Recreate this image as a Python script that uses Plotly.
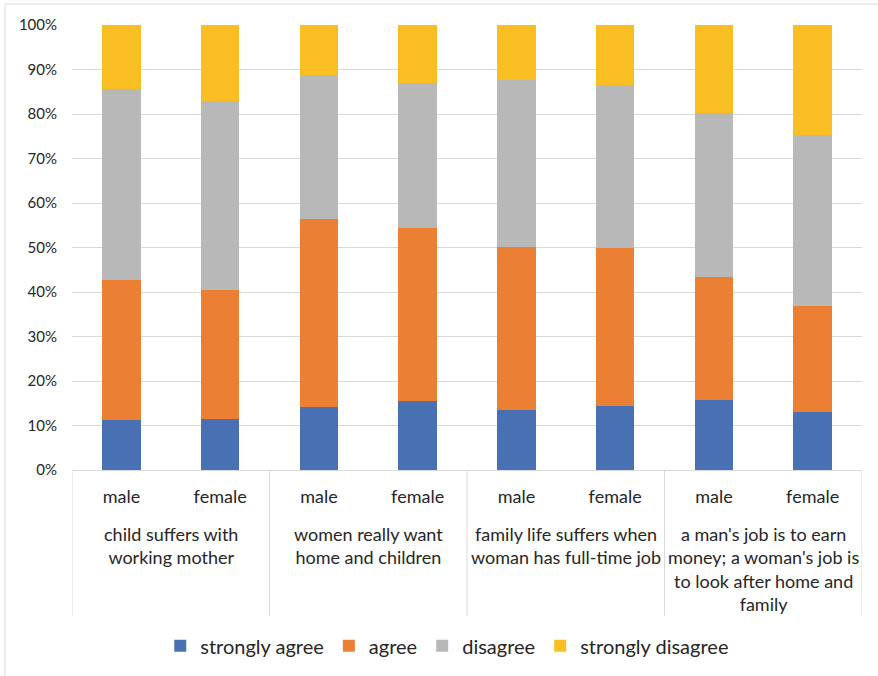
import plotly.graph_objects as go

groups = ["child suffers with<br>working mother",
          "women really want<br>home and children",
          "family life suffers when<br>woman has full-time job",
          "a man's job is to earn<br>money; a woman's job is<br>to look after home and<br>family"]
genders = ["male", "female"]
series_names = ["strongly agree", "agree", "disagree", "strongly disagree"]
colors = ["#4A70B4", "#EB7F33", "#B8B8B8", "#F9BE22"]

strongly_agree = [11.2, 11.4, 14.2, 15.5, 13.5, 14.3, 15.8, 13.1]
agree = [31.5, 29.0, 42.2, 38.8, 36.6, 35.5, 27.5, 23.7]
disagree = [42.9, 42.5, 32.3, 32.7, 37.5, 36.7, 36.9, 38.4]
strongly_disagree = [14.4, 17.1, 11.3, 13.0, 12.4, 13.5, 19.8, 24.8]
values = [strongly_agree, agree, disagree, strongly_disagree]

FONT = "Lato, Liberation Sans, Arial, sans-serif"
TXT = "#262626"

xpos = list(range(len(groups) * len(genders)))
xlabels = [g for _ in groups for g in genders]

fig = go.Figure()
for name, col, vals in zip(series_names, colors, values):
    fig.add_trace(go.Bar(x=xpos, y=vals, name=name, marker=dict(color=col, line=dict(width=0)),
                         width=0.39))

shapes = []
for k in range(len(groups) + 1):
    xv = -0.5 + 2 * k
    shapes.append(dict(type="line", xref="x", yref="paper", x0=xv, x1=xv, y0=0, y1=-0.3274,
                       line=dict(color="#d9d9d9", width=1)))
shapes.append(dict(type="rect", xref="paper", yref="paper", x0=-0.0848, x1=1.0228, y0=-0.47, y1=1.047,
                   line=dict(color="#d9d9d9", width=1), layer="below"))

annotations = []
for i, g in enumerate(groups):
    annotations.append(dict(x=2 * i + 0.5, xref="x", y=-0.1143, yref="paper", text=g,
                            showarrow=False, xanchor="center", yanchor="top", align="center",
                            font=dict(family=FONT, size=18, color=TXT)))

fig.update_layout(
    barmode="stack",
    width=878, height=676,
    margin=dict(l=72, r=16, t=25, b=205),
    paper_bgcolor="white", plot_bgcolor="white",
    font=dict(family=FONT, size=18, color=TXT),
    shapes=shapes,
    annotations=annotations,
    legend=dict(orientation="h", x=0.475, xanchor="center", y=-0.392, yanchor="middle",
                font=dict(family=FONT, size=20, color=TXT), traceorder="normal",
                itemwidth=30),
    xaxis=dict(range=[-0.5, 7.5], tickvals=xpos, ticktext=xlabels, showgrid=False,
               showline=True, linecolor="#d9d9d9", linewidth=1, ticks="", ticklabelstandoff=10,
               tickfont=dict(family=FONT, size=18, color=TXT), zeroline=False, fixedrange=True),
    yaxis=dict(range=[0, 100], tickvals=list(range(0, 101, 10)),
               ticktext=[f"{v}%" for v in range(0, 101, 10)], showgrid=True,
               gridcolor="#d9d9d9", gridwidth=1, zeroline=False, showline=False,
               ticklabelstandoff=14, tickfont=dict(family=FONT, size=15, color=TXT), fixedrange=True),
    bargap=0.6,
)

fig.write_html("out.html")
